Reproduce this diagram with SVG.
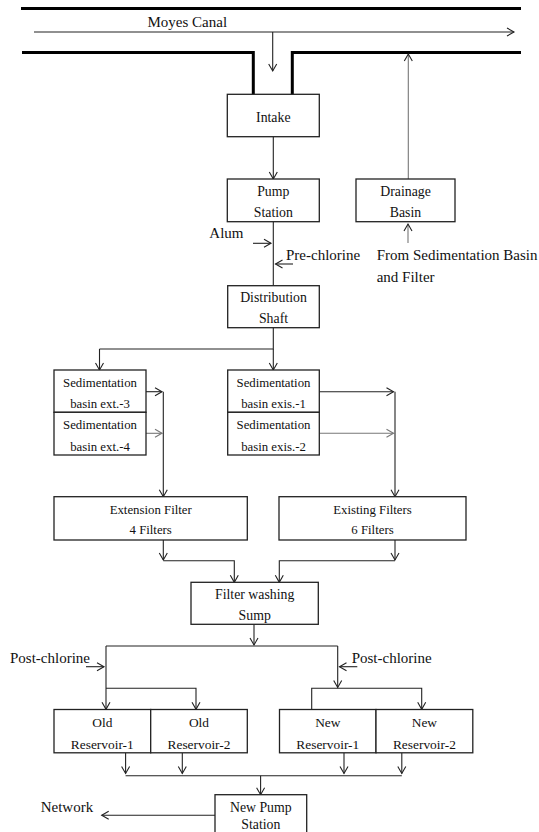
<svg xmlns="http://www.w3.org/2000/svg" width="539" height="832" viewBox="0 0 539 832">
<defs>
<marker id="ah" markerUnits="userSpaceOnUse" markerWidth="12" markerHeight="12" viewBox="-8 -6 10 12" refX="0" refY="0" orient="auto">
<path d="M-7,-4 L0,0 L-7,4" fill="none" stroke="#222" stroke-width="1.1"/>
</marker>
<marker id="ahg" markerUnits="userSpaceOnUse" markerWidth="12" markerHeight="12" viewBox="-8 -6 10 12" refX="0" refY="0" orient="auto">
<path d="M-7,-4 L0,0 L-7,4" fill="none" stroke="#777" stroke-width="1.1"/>
</marker>
<style>
text{font-family:"Liberation Serif","Times New Roman",serif;fill:#111;text-anchor:middle}
.lbl{font-size:15px;text-anchor:start}
.b{font-size:13.8px}
.s{font-size:12.8px}
.r{font-size:13.4px}
rect{fill:#fff;stroke:#222;stroke-width:1.3}
.c{fill:none;stroke:#222;stroke-width:1.1}
.g{fill:none;stroke:#777;stroke-width:1.1}
.a{marker-end:url(#ah)}
.ag{marker-end:url(#ahg)}
.thick{fill:none;stroke:#000;stroke-width:3}
</style>
</defs>
<rect x="0" y="0" width="539" height="832" style="fill:#fff;stroke:none"/>

<g id="canal">
<path class="thick" d="M21,8.5 H521"/>
<path class="thick" d="M22,52.5 H253.3 V94.3"/>
<path class="thick" d="M292.3,94.3 V52.5 H521"/>
<text class="lbl" x="147.5" y="27">Moyes Canal</text>
</g>

<g id="connectors">
<path class="c a" d="M34,32 H514"/>
<path class="c a" d="M272.7,32 V71"/>
<path class="g a" d="M408.3,179 V54"/>
<path class="c a" d="M273.3,136.7 V179"/>
<path class="c" d="M273.3,221.7 V285.7"/>
<path class="c a" d="M253,243.3 H271"/>
<path class="c a" d="M293,264 H275.5"/>
<path class="g a" d="M408,243 V224"/>
<path class="c" d="M273.3,327.7 V349 H99.5"/>
<path class="c a" d="M99.5,349 V370"/>
<path class="c a" d="M273.3,349 V370"/>
<path class="c a" d="M146,391.7 H162"/>
<path class="g ag" d="M146,433.3 H162"/>
<path class="c a" d="M163.3,391.7 V496.7"/>
<path class="c a" d="M319.3,391.7 H393.5"/>
<path class="g ag" d="M319.3,433.3 H393.5"/>
<path class="c a" d="M395,391.7 V496.7"/>
<path class="c a" d="M163.3,540 V560"/>
<path class="c a" d="M163.3,560.7 H234.3 V582.3"/>
<path class="c a" d="M395,540 V560"/>
<path class="c a" d="M395,560.7 H279.3 V582.3"/>
<path class="c a" d="M254,624.3 V645"/>
<path class="c" d="M106,646 H337.7"/>
<path class="c a" d="M106,646 V709.3"/>
<path class="c a" d="M106,688.3 H196 V709.3"/>
<path class="c a" d="M86,666.7 H104"/>
<path class="c a" d="M337.7,646 V687.5"/>
<path class="c a" d="M311.7,709.3 V688.3 H421.7 V709.3"/>
<path class="c a" d="M357.3,666.7 H339.5"/>
<path class="c a" d="M125.6,753 V773.5"/>
<path class="c a" d="M182.3,753 V773.5"/>
<path class="c a" d="M344,753 V773.5"/>
<path class="c a" d="M401.8,753 V773.5"/>
<path class="c" d="M125.6,775.7 H401.8"/>
<path class="c a" d="M260.6,775.7 V794.7"/>
<path class="c a" d="M215,815.3 H101.7"/>
</g>

<g id="labels">
<text class="lbl" x="209.3" y="238">Alum</text>
<text class="lbl" x="286" y="260">Pre-chlorine</text>
<text class="lbl" x="376.7" y="260">From Sedimentation Basin</text>
<text class="lbl" x="376.7" y="281.7">and Filter</text>
<text class="lbl" x="10" y="663.3">Post-chlorine</text>
<text class="lbl" x="351.7" y="663.3">Post-chlorine</text>
<text class="lbl" x="40.7" y="811.7">Network</text>
</g>

<g id="intake">
<rect x="227.3" y="94.3" width="92" height="42.4"/>
<text class="b" x="273.3" y="121.7">Intake</text>
</g>
<g id="pump-station">
<rect x="227.3" y="179" width="92" height="42.7"/>
<text class="b" x="273.3" y="196">Pump</text>
<text class="b" x="273.3" y="217.3">Station</text>
</g>
<g id="drainage-basin">
<rect x="356" y="179" width="99" height="42.7"/>
<text class="b" x="405.5" y="196">Drainage</text>
<text class="b" x="405.5" y="217.3">Basin</text>
</g>
<g id="distribution-shaft">
<rect x="227.7" y="285.7" width="91.6" height="42"/>
<text class="b" x="273.5" y="302">Distribution</text>
<text class="b" x="273.5" y="322.7">Shaft</text>
</g>
<g id="sed-ext-3">
<rect x="54" y="370" width="92" height="42.3"/>
<text class="s" x="100" y="387.3">Sedimentation</text>
<text class="s" x="100" y="408.3">basin ext.-3</text>
</g>
<g id="sed-ext-4">
<rect x="54" y="412.3" width="92" height="42.7"/>
<text class="s" x="100" y="429.3">Sedimentation</text>
<text class="s" x="100" y="450.5">basin ext.-4</text>
</g>
<g id="sed-exis-1">
<rect x="227.7" y="370" width="91.6" height="42.3"/>
<text class="s" x="273.5" y="387.3">Sedimentation</text>
<text class="s" x="273.5" y="408.3">basin exis.-1</text>
</g>
<g id="sed-exis-2">
<rect x="227.7" y="412.3" width="91.6" height="42.7"/>
<text class="s" x="273.5" y="429.3">Sedimentation</text>
<text class="s" x="273.5" y="450.5">basin exis.-2</text>
</g>
<g id="extension-filter">
<rect x="54" y="496.7" width="193.3" height="43.3"/>
<text class="s" x="150.7" y="514">Extension Filter</text>
<text class="s" x="150.7" y="534">4 Filters</text>
</g>
<g id="existing-filters">
<rect x="279" y="496.7" width="187" height="43.3"/>
<text class="s" x="372.5" y="514">Existing Filters</text>
<text class="s" x="372.5" y="534">6 Filters</text>
</g>
<g id="filter-washing-sump">
<rect x="191" y="582.3" width="127.3" height="42"/>
<text class="b" x="254.7" y="599.3">Filter washing</text>
<text class="b" x="254.7" y="620">Sump</text>
</g>
<g id="old-reservoir-1">
<rect x="54" y="709.5" width="96.7" height="43.3"/>
<text class="r" x="102.3" y="726.8">Old</text>
<text class="r" x="102.3" y="749">Reservoir-1</text>
</g>
<g id="old-reservoir-2">
<rect x="150.7" y="709.5" width="96.6" height="43.3"/>
<text class="r" x="199" y="726.8">Old</text>
<text class="r" x="199" y="749">Reservoir-2</text>
</g>
<g id="new-reservoir-1">
<rect x="279.5" y="709.5" width="96.5" height="43.3"/>
<text class="r" x="327.8" y="726.8">New</text>
<text class="r" x="327.8" y="749">Reservoir-1</text>
</g>
<g id="new-reservoir-2">
<rect x="376" y="709.5" width="96.8" height="43.3"/>
<text class="r" x="424.4" y="726.8">New</text>
<text class="r" x="424.4" y="749">Reservoir-2</text>
</g>
<g id="new-pump-station">
<rect x="215" y="794.7" width="91.7" height="42.5"/>
<text class="b" x="260.8" y="811.5">New Pump</text>
<text class="b" x="260.8" y="828.5">Station</text>
</g>
</svg>
